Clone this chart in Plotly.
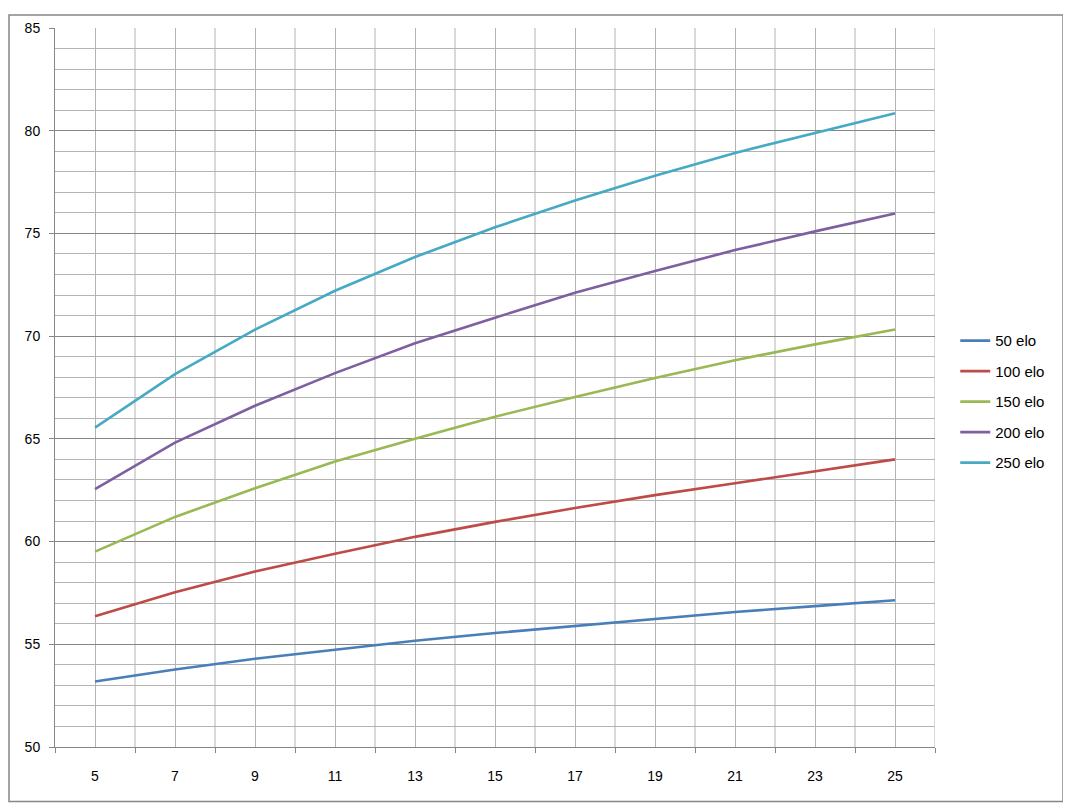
import plotly.graph_objects as go

x_vals = [5, 7, 9, 11, 13, 15, 17, 19, 21, 23, 25]
series_names = ["50 elo", "100 elo", "150 elo", "200 elo", "250 elo"]
elo50 = [53.19, 53.77, 54.30, 54.73, 55.17, 55.55, 55.89, 56.23, 56.57, 56.86, 57.14]
elo100 = [56.37, 57.53, 58.54, 59.41, 60.23, 60.96, 61.63, 62.26, 62.84, 63.42, 64.00]
elo150 = [59.51, 61.20, 62.60, 63.90, 65.01, 66.08, 67.04, 67.96, 68.83, 69.60, 70.32]
elo200 = [62.55, 64.82, 66.61, 68.20, 69.65, 70.90, 72.11, 73.17, 74.19, 75.10, 75.97]
elo250 = [65.55, 68.15, 70.32, 72.21, 73.85, 75.30, 76.60, 77.81, 78.92, 79.88, 80.85]
colors = ["#4A7EBB", "#BE4B48", "#98B954", "#7D60A0", "#46AAC5"]

fig = go.Figure()
for i, (name, ys) in enumerate(zip(series_names, [elo50, elo100, elo150, elo200, elo250])):
    fig.add_trace(go.Scatter(x=x_vals, y=ys, mode="lines", name=name,
                             line=dict(color=colors[i], width=2.6),
                             legendgroup=name))

font = dict(family="Liberation Sans, Arial, sans-serif", size=14, color="black")
legend_font = dict(family="Liberation Sans, Arial, sans-serif", size=15, color="black")

W, H = 1063, 801
L, T, R, B = 47, 14, 136, 62
PW, PH = W - L - R, H - T - B

fig.update_layout(
    width=W, height=H,
    margin=dict(l=L, r=R, t=T, b=B),
    paper_bgcolor="white", plot_bgcolor="white",
    font=font,
    showlegend=True,
    legend=dict(x=1.023, y=0.480, xanchor="left", yanchor="middle",
                font=legend_font, tracegroupgap=8, itemwidth=30,
                bgcolor="rgba(0,0,0,0)"),
    xaxis=dict(range=[4, 26], tickmode="array", tickvals=x_vals,
               ticktext=[str(v) for v in x_vals], ticks="",
               showgrid=True, gridcolor="#B3B3B3", gridwidth=1,
               showline=True, linecolor="#868686", linewidth=1,
               zeroline=False, ticklabelstandoff=16, fixedrange=True,
               minor=dict(tickmode="array", tickvals=list(range(4, 27, 2)),
                          ticks="outside", ticklen=5, tickcolor="#868686",
                          showgrid=False)),
    yaxis=dict(range=[50, 85], tickmode="linear", tick0=50, dtick=5,
               ticks="outside", ticklen=5, tickcolor="#868686",
               showgrid=True, gridcolor="#868686", gridwidth=1,
               showline=True, linecolor="#868686", linewidth=1,
               zeroline=False, ticklabelstandoff=6,
               minor=dict(tickmode="linear", tick0=50, dtick=1, ticks="",
                          showgrid=True, gridcolor="#B3B3B3", gridwidth=1)),
)

# grid lines at even category positions
for v in range(6, 27, 2):
    fig.add_shape(type="line", xref="x", yref="y", x0=v, x1=v, y0=50, y1=85,
                  line=dict(color="#B3B3B3", width=1), layer="below")

# outer chart border
fig.add_shape(type="rect", xref="paper", yref="paper",
              x0=(1 - L) / PW, x1=(1055 - L) / PW,
              y0=(T + PH - 794) / PH, y1=(T + PH - 1) / PH,
              line=dict(color="#868686", width=1.5), fillcolor="rgba(0,0,0,0)")

fig.write_html("out.html")
